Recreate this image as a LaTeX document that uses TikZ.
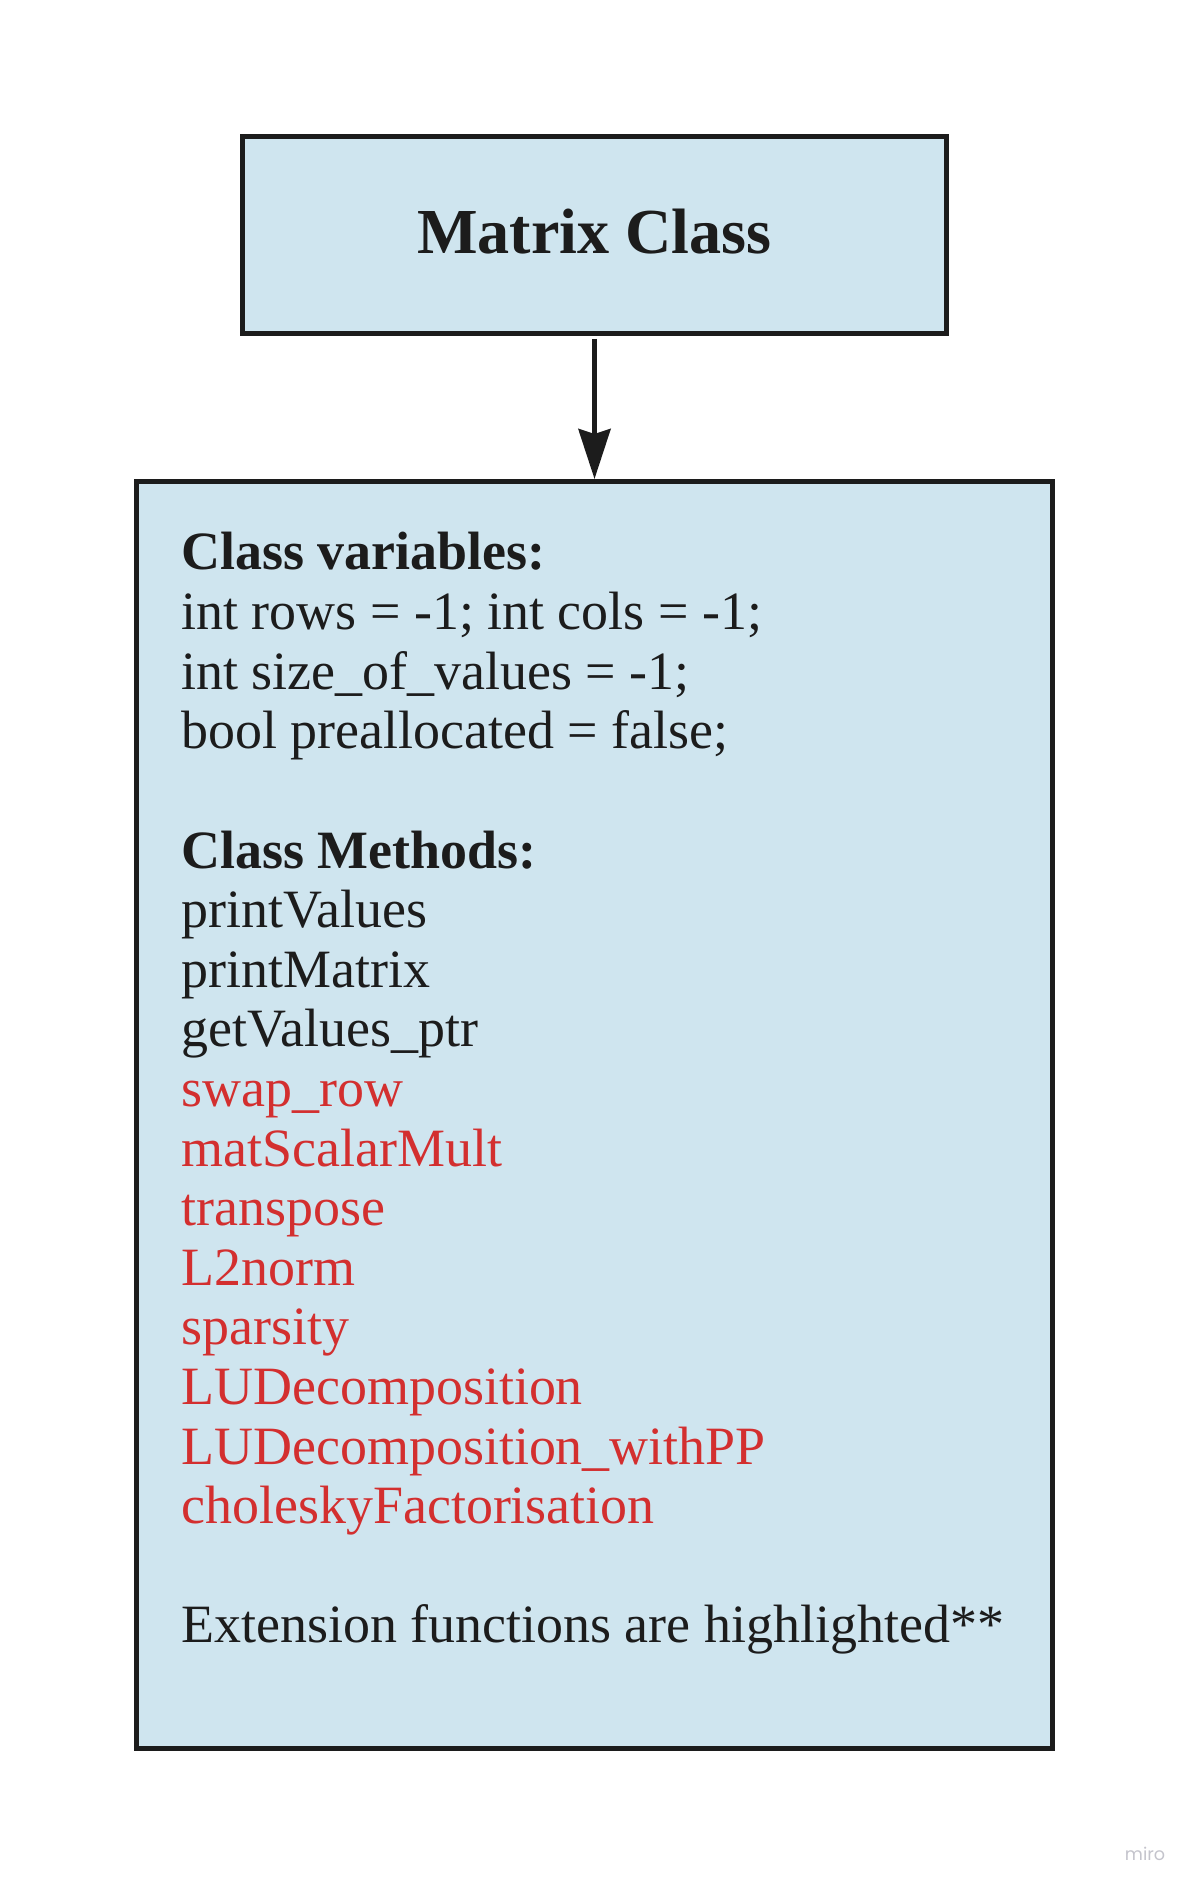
\documentclass[tikz,border=0pt]{standalone}
\usepackage{fontspec}
\setmainfont{Liberation Serif}
\newfontfamily\mirofont{Poppins}
\usetikzlibrary{arrows.meta,positioning}
\definecolor{classblue}{HTML}{CFE5EF}
\definecolor{borderdark}{HTML}{1C1C1C}
\definecolor{extred}{HTML}{D32F2F}
\definecolor{watermarkgray}{HTML}{C4C4CC}

\begin{document}
\begin{tikzpicture}[
  x=1cm, y=1cm, >=Stealth,
  classbox/.style={rectangle, draw=borderdark, fill=classblue, line width=0.1cm, inner sep=0pt},
  member/.style={anchor=base west, inner sep=0pt, font=\fontsize{30.7}{33.9}\selectfont, text=borderdark},
  heading/.style={member, font=\fontsize{30.7}{33.9}\selectfont\bfseries},
  extension/.style={member, text=extred},
  line/.style={draw=borderdark, line width=0.1cm, -{Stealth[length=1.0cm, width=0.64cm, inset=0.1cm]}}
]
  \useasboundingbox (0,0) rectangle (23.84,-37.74);

  % Class box
  \node[classbox, minimum width=14.08cm, minimum height=3.94cm, text depth=0.14cm, font=\fontsize{36.5}{40}\selectfont\bfseries, text=borderdark] (matrix) at (11.89,-4.70) {Matrix Class};

  % Members box
  \node[classbox, minimum width=18.32cm, minimum height=25.34cm] (members) at (11.89,-22.30) {};

  \draw[line, shorten <=0.06cm] (matrix) -- (members);

  % Class variables
  \node[heading] (varhead) at (3.62,-11.40) {Class variables:};
  \node[member] (var1) at (3.62,-12.592) {int rows = -1; int cols = -1;};
  \node[member] (var2) at (3.62,-13.784) {int size\_of\_values = -1;};
  \node[member] (var3) at (3.62,-14.976) {bool preallocated = false;};

  % Class methods
  \node[heading] (methhead) at (3.62,-17.36) {Class Methods:};
  \node[member] (meth1) at (3.62,-18.552) {printValues};
  \node[member] (meth2) at (3.62,-19.744) {printMatrix};
  \node[member] (meth3) at (3.62,-20.936) {getValues\_ptr};

  % Extension methods (red)
  \foreach \m [count=\i from 9] in {swap\_row, matScalarMult, transpose, L2norm, sparsity, LUDecomposition, LUDecomposition\_withPP, choleskyFactorisation}
    \node[extension] (ext\i) at (3.62,{-11.40-1.192*\i}) {\m};

  \node[member] (note) at (3.62,-32.856) {Extension functions are highlighted**};

  % Watermark
  \node[font=\mirofont\fontsize{10}{12}\selectfont, text=watermarkgray] (miro) at (22.9,-37.08) {miro};

\end{tikzpicture}
\end{document}
